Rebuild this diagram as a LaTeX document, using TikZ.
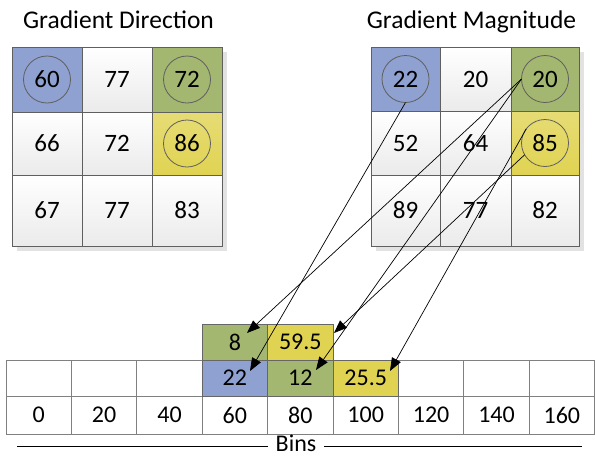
\documentclass[tikz,border=0pt]{standalone}
\usepackage{fontspec}
\setmainfont{Carlito}
\usetikzlibrary{arrows.meta,calc}
\definecolor{cblue}{RGB}{143,161,208}
\definecolor{cgreen}{RGB}{164,183,112}
\definecolor{cyellow}{RGB}{224,211,82}
\definecolor{gline}{RGB}{95,95,95}
\definecolor{tline}{RGB}{128,128,128}
\definecolor{shad}{RGB}{226,226,226}
\newcommand\gc[7]{\node[#6, minimum width={((#4)-(#2))*1pt}, minimum height={((#5)-(#3))*1pt}] (#1) at ({((#2)+(#4))/2},{((#3)+(#5))/2}) {#7};}
\begin{document}
\begin{tikzpicture}[x=1pt,y=-1pt,
  every node/.style={inner sep=0pt, outer sep=0pt, font=\fontsize{25}{29}\selectfont},
  gridtxt/.style={text height=16pt, text depth=-2pt},
  wcell/.style={gridtxt, draw=gline, line width=0.9pt, top color=white, bottom color=black!8},
  bcell/.style={gridtxt, draw=gline, line width=0.9pt, fill=cblue},
  gcell/.style={gridtxt, draw=gline, line width=0.9pt, fill=cgreen},
  ycell/.style={gridtxt, draw=gline, line width=0.9pt, top color=cyellow!80!white, bottom color=cyellow},
  tcell/.style={draw=tline, line width=1pt, fill=white, font=\fontsize{24}{28}\selectfont},
  vbcell/.style={draw=tline!80!black, line width=1pt, fill=cblue, font=\fontsize{24}{28}\selectfont},
  vgcell/.style={draw=tline!80!black, line width=1pt, fill=cgreen, font=\fontsize{24}{28}\selectfont},
  vycell/.style={draw=tline!80!black, line width=1pt, fill=cyellow, font=\fontsize{24}{28}\selectfont},
  circ/.style={circle, draw=gline, line width=0.8pt, minimum size=47pt},
  arr/.style={-{Triangle[length=13pt,width=10pt]}, line width=0.7pt, black},
  title/.style={font=\fontsize{25.5}{30}\selectfont, anchor=base}]
\useasboundingbox (0,0) rectangle (595,456);
% titles
\node[title] (t1) at (118.5,28) {Gradient Direction};
\node[title] (t2) at (471.5,28) {Gradient Magnitude};
% shadows
\fill[shad] (17,52) rectangle (227,251);
\fill[shad] (376,52) rectangle (584,251);
% direction grid
\gc{d11}{12}{47}{82}{112}{bcell}{60}
\gc{d12}{82}{47}{152}{112}{wcell}{77}
\gc{d13}{152}{47}{222}{112}{gcell}{72}
\gc{d21}{12}{112}{82}{175}{wcell}{66}
\gc{d22}{82}{112}{152}{175}{wcell}{72}
\gc{d23}{152}{112}{222}{175}{ycell}{86}
\gc{d31}{12}{175}{82}{246}{wcell}{67}
\gc{d32}{82}{175}{152}{246}{wcell}{77}
\gc{d33}{152}{175}{222}{246}{wcell}{83}
% magnitude grid
\gc{m11}{371}{47}{440}{111}{bcell}{22}
\gc{m12}{440}{47}{511}{111}{wcell}{20}
\gc{m13}{511}{47}{579}{111}{gcell}{20}
\gc{m21}{371}{111}{440}{175}{wcell}{52}
\gc{m22}{440}{111}{511}{175}{wcell}{64}
\gc{m23}{511}{111}{579}{175}{ycell}{85}
\gc{m31}{371}{175}{440}{246}{wcell}{89}
\gc{m32}{440}{175}{511}{246}{wcell}{77}
\gc{m33}{511}{175}{579}{246}{wcell}{82}
% circles
\node[circ] (c60) at (d11.center) {};
\node[circ] (c72) at (d13.center) {};
\node[circ] (c86) at (d23.center) {};
\node[circ] (c22) at (m11.center) {};
\node[circ] (c20) at (m13.center) {};
\node[circ] (c85) at (m23.center) {};
% histogram table
\foreach \k [count=\i from 0] in {0,20,40,60,80,100,120,140,160}{
  \gc{h\i}{6+65.4*\i}{360}{6+65.4*(\i+1)}{396}{tcell}{}
  \gc{b\i}{6+65.4*\i}{396}{6+65.4*(\i+1)}{434}{tcell}{\k}
}
\gc{v8}{202.2}{324}{267.6}{360}{vgcell}{8}
\gc{v595}{267.6}{324}{333}{360}{vycell}{59.5}
\gc{v22}{202.2}{360}{267.6}{396}{vbcell}{22}
\gc{v12}{267.6}{360}{333}{396}{vgcell}{12}
\gc{v255}{333}{360}{398.4}{396}{vycell}{25.5}
% arrow tips
\coordinate (e8) at (247,333);
\coordinate (e22) at (250,371);
\coordinate (e595) at (334,333);
\coordinate (e12) at (316,370);
\coordinate (e255) at (390,371);
\draw[arr] (c22.south) -- (e22);
\draw[arr] (c20.west) -- (e8);
\draw[arr] (c20.west) -- (e12);
\draw[arr] (c85.143) -- (e255);
\draw[arr] (c85.210) -- (e595);
% bins label
\node[inner xsep=8pt, inner ysep=0pt, font=\fontsize{24}{28}\selectfont] (bins) at (296,443) {Bins};
\coordinate (bl) at (17,446);
\coordinate (br) at (582,446);
\draw[line width=0.8pt] (bl) -- (bl -| bins.west);
\draw[line width=0.8pt] (br -| bins.east) -- (br);
\end{tikzpicture}
\end{document}
